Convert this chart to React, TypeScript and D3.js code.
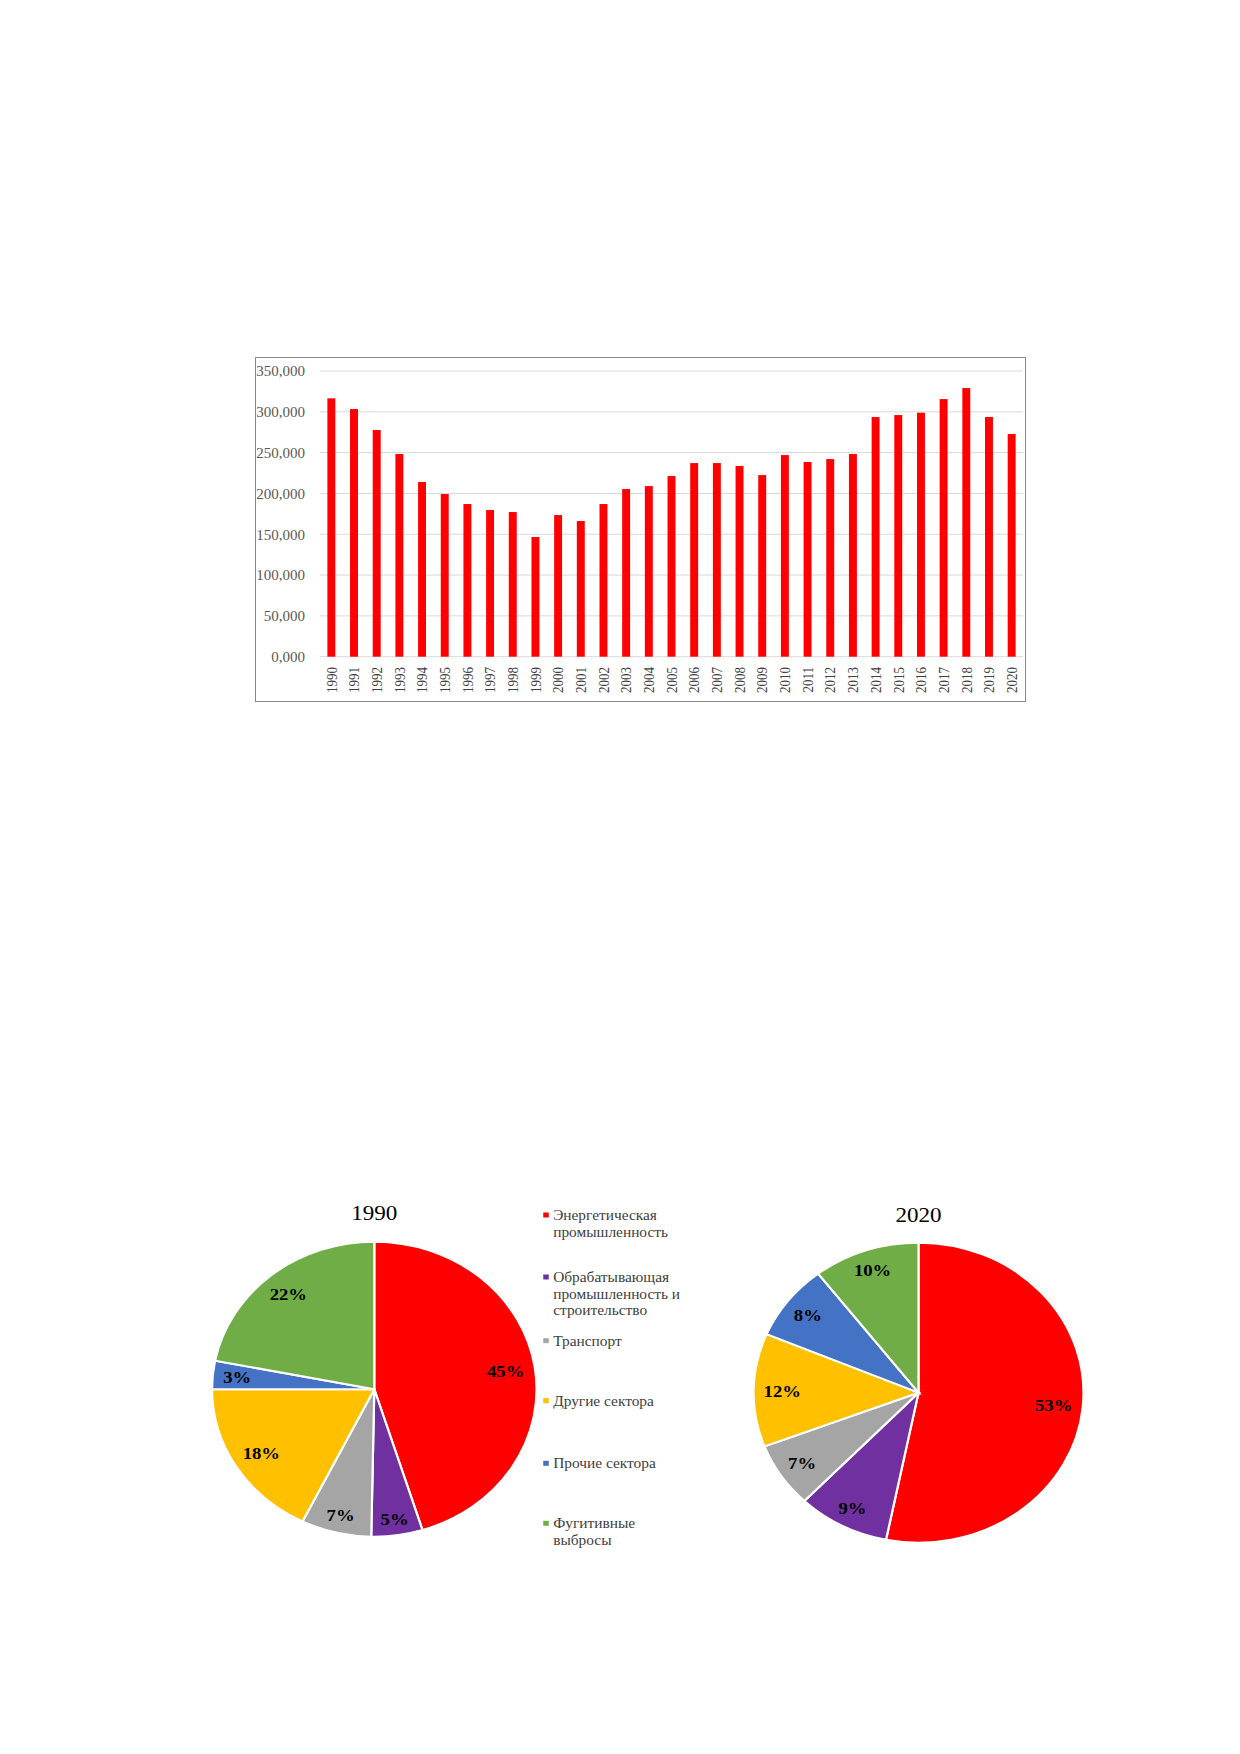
import React from "react";
import * as d3 from "d3";

// ---- Bar chart data (thousand units, shown as "350,000") ----
const years = [
  "1990","1991","1992","1993","1994","1995","1996","1997","1998","1999",
  "2000","2001","2002","2003","2004","2005","2006","2007","2008","2009",
  "2010","2011","2012","2013","2014","2015","2016","2017","2018","2019","2020",
];
const emissions = [
  316.5, 303.4, 277.7, 248.3, 214.0, 199.3, 187.0, 179.7, 177.2, 146.6,
  173.5, 166.2, 187.0, 205.4, 209.0, 221.3, 237.2, 237.2, 233.6, 222.5,
  247.0, 238.5, 242.1, 248.3, 293.6, 296.0, 298.9, 315.6, 329.1, 293.6, 272.8,
];
const yTicks = [0, 50, 100, 150, 200, 250, 300, 350];

// ---- Pie data ----
const sectors = [
  ["Энергетическая", "промышленность"],
  ["Обрабатывающая", "промышленность и", "строительство"],
  ["Транспорт"],
  ["Другие сектора"],
  ["Прочие сектора"],
  ["Фугитивные", "выбросы"],
];
const sectorColors = ["#FF0000", "#7030A0", "#A5A5A5", "#FFC000", "#4472C4", "#70AD47"];
const shares1990 = [45.2, 5.1, 7.0, 17.7, 3.1, 21.9];
const shares2020 = [53.1, 9.0, 7.0, 12.2, 8.2, 10.4];
const pieTitles = ["1990", "2020"];

const SERIF = "'Liberation Serif', 'Times New Roman', serif";

function BarChart() {
  const x = d3.scaleBand<string>().domain(years).range([320, 1023]).paddingInner(0.65).paddingOuter(0.325);
  const y = d3.scaleLinear().domain([0, 350]).range([656.7, 371]);
  const fmt = (v: number) => v.toFixed(3).replace(".", ",");
  return (
    <g>
      <rect x={255.5} y={357.5} width={770} height={344} fill="#fff" stroke="#898989" strokeWidth={1} />
      {yTicks.map((t) => (
        <g key={t}>
          <line x1={320} x2={1023} y1={y(t)} y2={y(t)} stroke="#D9D9D9" strokeWidth={1} />
          <text x={305} y={y(t)} dy="0.35em" textAnchor="end" fontFamily={SERIF} fontSize={15} fill="#595959">
            {fmt(t)}
          </text>
        </g>
      ))}
      {years.map((yr, i) => (
        <rect key={yr} x={x(yr)} y={y(emissions[i])} width={x.bandwidth()} height={y(0) - y(emissions[i])} fill="#FF0000" />
      ))}
      {years.map((yr) => {
        const cx = (x(yr) as number) + x.bandwidth() / 2;
        return (
          <text key={yr} transform={`translate(${cx},667) rotate(-90) scale(0.87,1)`} dy="0.35em" textAnchor="end"
            fontFamily={SERIF} fontSize={15} fill="#404040">
            {yr}
          </text>
        );
      })}
    </g>
  );
}

function Pie({ cx, cy, ry, shares, title, titleY }: { cx: number; cy: number; ry: number; shares: number[]; title: string; titleY: number }) {
  const pie = d3.pie<number>().sort(null).value((d) => d);
  const arcs = pie(shares);
  const arc = d3.arc<d3.PieArcDatum<number>>().innerRadius(0).outerRadius(ry);
  const total = d3.sum(shares);
  return (
    <g transform={`translate(${cx},${cy}) scale(1.1,1)`}>
      <text x={0} y={titleY - cy} textAnchor="middle" fontFamily={SERIF} fontSize={21} fill="#000">
        {title}
      </text>
      {arcs.map((a, i) => (
        <path key={i} d={arc(a) as string} fill={sectorColors[i]} stroke="#fff" strokeWidth={2} />
      ))}
      {arcs.map((a, i) => {
        const pct = Math.round((a.data / total) * 100);
        const label = `${pct}%`;
        const th = (a.startAngle + a.endAngle) / 2;
        const w = String(pct).length * 8.5 + 17;
        const h = 12;
        const d = ry - 9 - (w / 2) * Math.abs(Math.sin(th)) - (h / 2) * Math.abs(Math.cos(th));
        const lx = d * Math.sin(th);
        const ly = -d * Math.cos(th);
        return (
          <text key={`l${i}`} x={lx} y={ly} dy="0.35em" textAnchor="middle" fontFamily={SERIF}
            fontWeight="bold" fontSize={17} fill="#000">
            {label}
          </text>
        );
      })}
    </g>
  );
}

function Legend() {
  const itemY = [1215, 1277, 1340.7, 1400.7, 1463.3, 1523.3];
  return (
    <g>
      {sectors.map((lines, i) => (
        <g key={i} transform={`translate(546,${itemY[i]}) scale(1.1,1)`}>
          <rect x={-2.5} y={-2.5} width={5} height={5} fill={sectorColors[i]} />
          {lines.map((ln, j) => (
            <text key={j} x={6.5} y={j * 16.8} dy="0.35em" fontFamily={SERIF} fontSize={14} fill="#404040">
              {ln}
            </text>
          ))}
        </g>
      ))}
    </g>
  );
}

export default function App() {
  return (
    <svg width={1240} height={1754} viewBox="0 0 1240 1754"
      style={{ position: "absolute", left: 0, top: 0, background: "#fff" }}>
      <rect x={0} y={0} width={1240} height={1754} fill="#fff" />
      <BarChart />
      <Pie cx={374.3} cy={1389.2} ry={147.5} shares={shares1990} title={pieTitles[0]} titleY={1220} />
      <Pie cx={918.5} cy={1392.7} ry={150} shares={shares2020} title={pieTitles[1]} titleY={1222} />
      <Legend />
    </svg>
  );
}
